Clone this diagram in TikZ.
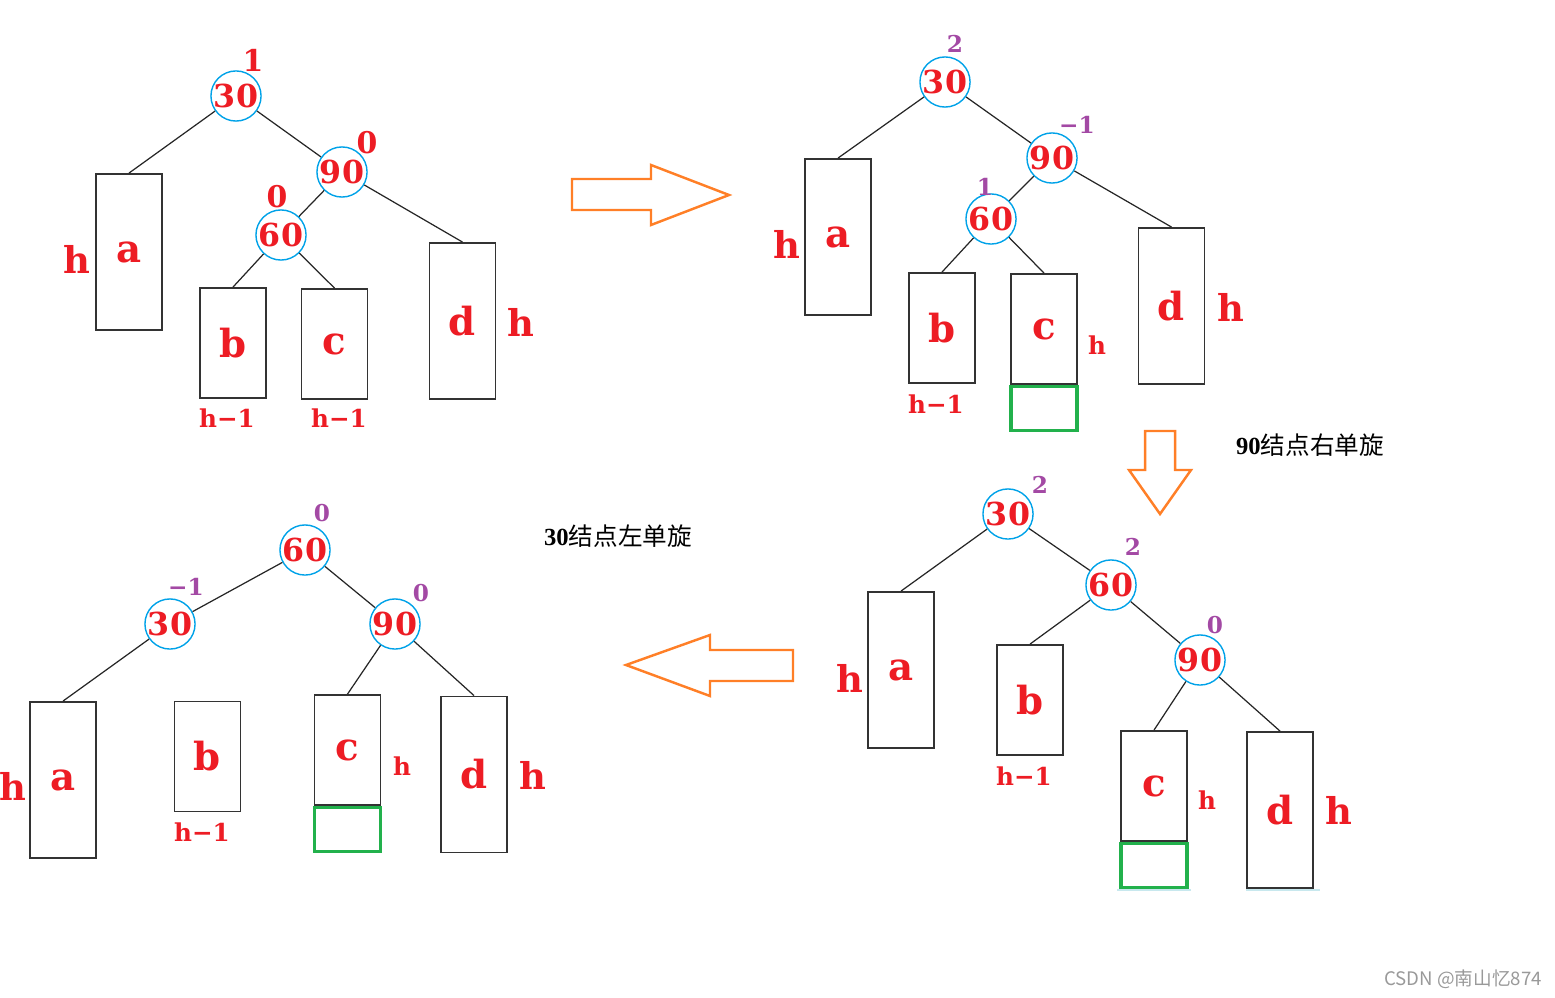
\documentclass[tikz,border=0pt]{standalone}
\usepackage{fontspec}
\newfontfamily\lblfont{DejaVu Serif}
\newfontfamily\cjkfont{Noto Sans CJK SC}
\newfontfamily\numfont{Liberation Serif}
\usetikzlibrary{positioning}
\definecolor{pred}{RGB}{237,28,36}
\definecolor{ppurple}{RGB}{163,73,164}
\definecolor{pblue}{RGB}{0,162,232}
\definecolor{pgreen}{RGB}{34,177,76}
\definecolor{porange}{RGB}{255,127,39}
\definecolor{pline}{RGB}{200,232,238}
\begin{document}
\begin{tikzpicture}[x=0.01cm,y=-0.01cm,
	num/.style={circle,draw=pblue,line width=0.4pt,inner sep=0pt,minimum size=0.45cm,text=pred,font=\lblfont\bfseries\fontsize{9}{9}\selectfont},
	box/.style={draw=black!80,line width=0.5pt,minimum width=0.66cm,minimum height=1.56cm,inner sep=0pt,text=pred,font=\lblfont\bfseries\fontsize{11}{11}\selectfont},
	short/.style={box,minimum height=1.1cm},
	extra/.style={draw=pgreen,line width=0.9pt,minimum width=0.66cm,minimum height=0.44cm,inner sep=0pt},
	big/.style={text=pred,inner sep=0pt,font=\lblfont\bfseries\fontsize{10.5}{10.5}\selectfont},
	small/.style={text=pred,inner sep=0pt,font=\lblfont\bfseries\fontsize{7}{7}\selectfont},
	bal/.style={text=ppurple,inner sep=0pt,font=\lblfont\bfseries\fontsize{6.6}{6.6}\selectfont},
	balred/.style={text=pred,inner sep=0pt,font=\lblfont\bfseries\fontsize{8.5}{8.5}\selectfont},
	edge/.style={draw=black!85,line width=0.35pt},
	hollow/.style={draw=porange,line width=0.7pt},
	note/.style={inner sep=0pt,font=\fontsize{7}{7}\selectfont}]
	\useasboundingbox (0,0) rectangle (1555,997);

	% tree 1
	\node[num] (t1-30) at (236,96) {30};
	\node[num] (t1-90) at (342,172) {90};
	\node[num] (t1-60) at (281,235) {60};
	\node[box] (t1-a) at (129,252) {a};
	\node[short] (t1-b) at (233,343) {b};
	\node[short] (t1-c) at (334.5,344) {c};
	\node[box] (t1-d) at (462.5,321) {d};
	\draw[edge] (t1-30) -- (t1-a.north);
	\draw[edge] (t1-30) -- (t1-90);
	\draw[edge] (t1-90) -- (t1-60);
	\draw[edge] (t1-90) -- (t1-d.north);
	\draw[edge] (t1-60) -- (t1-b.north);
	\draw[edge] (t1-60) -- (t1-c.north);
	\node[balred] (t1-f30) at (253,60) {1};
	\node[balred] (t1-f90) at (367,143) {0};
	\node[balred] (t1-f60) at (277,197) {0};
	\node[big] (t1-ha) at (77,259) {h};
	\node[big] (t1-hd) at (521,322) {h};
	\node[small] (t1-hb) at (227,418) {h−1};
	\node[small] (t1-hc) at (339,418) {h−1};

	% tree 2
	\node[num] (t2-30) at (945,82) {30};
	\node[num] (t2-90) at (1052,158) {90};
	\node[num] (t2-60) at (991,219) {60};
	\node[box] (t2-a) at (838,237) {a};
	\node[short] (t2-b) at (942,328) {b};
	\node[short] (t2-c) at (1044,329) {c};
	\node[extra,below=0pt of t2-c] (t2-e) {};
	\node[box] (t2-d) at (1171.5,306) {d};
	\draw[edge] (t2-30) -- (t2-a.north);
	\draw[edge] (t2-30) -- (t2-90);
	\draw[edge] (t2-90) -- (t2-60);
	\draw[edge] (t2-90) -- (t2-d.north);
	\draw[edge] (t2-60) -- (t2-b.north);
	\draw[edge] (t2-60) -- (t2-c.north);
	\node[bal] (t2-f30) at (955,44) {2};
	\node[bal] (t2-f90) at (1077,125) {−1};
	\node[bal] (t2-f60) at (985,187) {1};
	\node[big] (t2-ha) at (787,244) {h};
	\node[big] (t2-hd) at (1231,307) {h};
	\node[small] (t2-hc) at (1097,345) {h};
	\node[small] (t2-hb) at (936,404) {h−1};

	% tree 3
	\node[num] (t3-30) at (1008,514) {30};
	\node[num] (t3-60) at (1111,585) {60};
	\node[num] (t3-90) at (1200,660) {90};
	\node[box] (t3-a) at (901,670) {a};
	\node[short] (t3-b) at (1030,700) {b};
	\node[short] (t3-c) at (1154,786) {c};
	\node[extra,below=0pt of t3-c] (t3-e) {};
	\node[box] (t3-d) at (1280,810) {d};
	\draw[edge] (t3-30) -- (t3-a.north);
	\draw[edge] (t3-30) -- (t3-60);
	\draw[edge] (t3-60) -- (t3-b.north);
	\draw[edge] (t3-60) -- (t3-90);
	\draw[edge] (t3-90) -- (t3-c.north);
	\draw[edge] (t3-90) -- (t3-d.north);
	\draw[pline,line width=0.8pt] (1117,890) -- (1191,890);
	\draw[pline,line width=0.8pt] (1246,890) -- (1320,890);
	\node[bal] (t3-f30) at (1040,485) {2};
	\node[bal] (t3-f60) at (1133,547) {2};
	\node[bal] (t3-f90) at (1215,625) {0};
	\node[big] (t3-ha) at (850,678) {h};
	\node[big] (t3-hd) at (1339,810) {h};
	\node[small] (t3-hc) at (1207,800) {h};
	\node[small] (t3-hb) at (1024,776) {h−1};

	% tree 4
	\node[num] (t4-60) at (305,550) {60};
	\node[num] (t4-30) at (170,624) {30};
	\node[num] (t4-90) at (395,624) {90};
	\node[box] (t4-a) at (63,780) {a};
	\node[short] (t4-b) at (207.5,756.5) {b};
	\node[short] (t4-c) at (347.5,750) {c};
	\node[extra,below=0pt of t4-c] (t4-e) {};
	\node[box] (t4-d) at (474,774.5) {d};
	\draw[edge] (t4-60) -- (t4-30);
	\draw[edge] (t4-60) -- (t4-90);
	\draw[edge] (t4-30) -- (t4-a.north);
	\draw[edge] (t4-90) -- (t4-c.north);
	\draw[edge] (t4-90) -- (t4-d.north);
	\node[bal] (t4-f60) at (322,513) {0};
	\node[bal] (t4-f30) at (186,587) {−1};
	\node[bal] (t4-f90) at (421,593) {0};
	\node[big] (t4-ha) at (13,786) {h};
	\node[big] (t4-hd) at (533,775) {h};
	\node[small] (t4-hc) at (402,766) {h};
	\node[small] (t4-hb) at (202,832) {h−1};

	% arrows and notes
	\draw[hollow] (572,179) -- (651,179) -- (651,165) -- (729,195) -- (651,225) -- (651,210) -- (572,210) -- cycle;
	\draw[hollow] (1145,431) -- (1175,431) -- (1175,470) -- (1191,470) -- (1160,514) -- (1129,470) -- (1145,470) -- cycle;
	\draw[hollow] (793,650) -- (710,650) -- (710,635) -- (626,665) -- (710,696) -- (710,681) -- (793,681) -- cycle;
	\node[note] (rot90) at (1310,445) {\numfont\bfseries 90\cjkfont\mdseries 结点右单旋};
	\node[note] (rot30) at (618,536) {\numfont\bfseries 30\cjkfont\mdseries 结点左单旋};
	\node[inner sep=0pt,text=black!40,font=\cjkfont\fontsize{5.3}{5.3}\selectfont] (mark) at (1463,979) {CSDN @南山忆874};
\end{tikzpicture}
\end{document}
